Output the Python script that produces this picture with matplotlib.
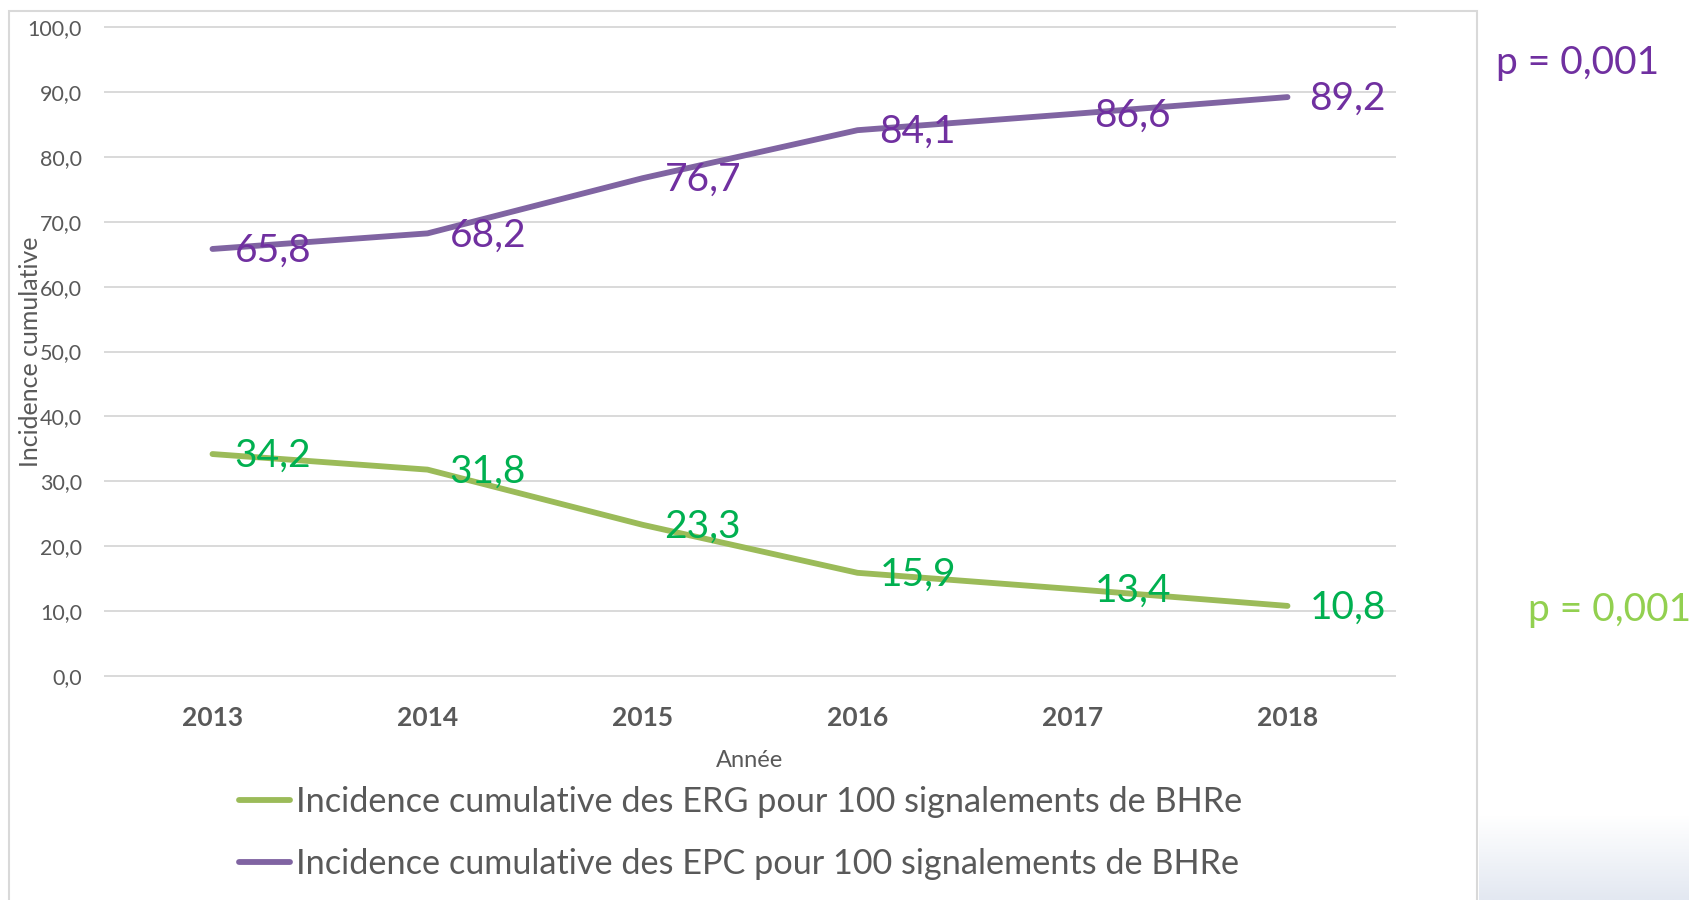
import matplotlib
matplotlib.use('Agg')
import matplotlib.pyplot as plt
import matplotlib.patches as patches
import numpy as np

plt.rcParams['font.family'] = ['Lato', 'DejaVu Sans']

years = ['2013', '2014', '2015', '2016', '2017', '2018']
erg = [34.2, 31.8, 23.3, 15.9, 13.4, 10.8]
epc = [65.8, 68.2, 76.7, 84.1, 86.6, 89.2]
yticks = [0, 10, 20, 30, 40, 50, 60, 70, 80, 90, 100]
label_erg = 'Incidence cumulative des ERG pour 100 signalements de BHRe'
label_epc = 'Incidence cumulative des EPC pour 100 signalements de BHRe'
p_epc = 'p = 0,001'
p_erg = 'p = 0,001'

grey = '#595959'
grid_col = '#D9D9D9'
green_line = '#9BBB59'
green_txt = '#00B050'
purple_line = '#8064A2'
purple_txt = '#7030A0'

W, H = 1690, 900
fig = plt.figure(figsize=(W / 100, H / 100), dpi=100)
fig.patch.set_facecolor('white')

# cadre du graphique
fig.patches.append(patches.Rectangle((9 / W, -0.02), (1477 - 9) / W, (H - 11) / H + 0.02,
                                     fill=False, edgecolor=grid_col, lw=1.5,
                                     transform=fig.transFigure, zorder=0))

# petit degrade en bas a droite
gax = fig.add_axes([1479 / W, 0, (W - 1479) / W, 85 / H])
grad = np.linspace(0, 1, 50).reshape(-1, 1)
gax.imshow(grad, aspect='auto', cmap=matplotlib.colors.LinearSegmentedColormap.from_list(
    'g', ['#FFFFFF', '#E3E8F1']), origin='upper')
gax.axis('off')

ax = fig.add_axes([105 / W, 1 - 676 / H, (1395 - 105) / W, (676 - 27) / H])
x = np.arange(len(years))

for t in yticks:
    ax.axhline(t, color=grid_col, lw=1.4, clip_on=False, zorder=1)

ax.plot(x, erg, color=green_line, lw=4.2, solid_capstyle='round', solid_joinstyle='round',
        zorder=3, label=label_erg)
ax.plot(x, epc, color=purple_line, lw=4.2, solid_capstyle='round', solid_joinstyle='round',
        zorder=3, label=label_epc)

for i, v in enumerate(erg):
    ax.annotate(f'{v:.1f}'.replace('.', ','), xy=(i, v), xytext=(22, -2), textcoords='offset pixels',
                ha='left', va='center', fontsize=28, color=green_txt, zorder=4)
for i, v in enumerate(epc):
    ax.annotate(f'{v:.1f}'.replace('.', ','), xy=(i, v), xytext=(22, -2), textcoords='offset pixels',
                ha='left', va='center', fontsize=28, color=purple_txt, zorder=4)

ax.set_xlim(-0.5, len(years) - 0.5)
ax.set_ylim(0, 100)
ax.set_yticks(yticks)
ax.set_yticklabels([f'{t:.1f}'.replace('.', ',') for t in yticks], fontsize=15.5, color=grey)
ax.set_xticks(x)
ax.set_xticklabels(years, fontsize=19, fontweight='bold', color=grey)
ax.tick_params(axis='both', length=0)
ax.tick_params(axis='y', pad=16.5)
ax.tick_params(axis='x', pad=21.5)
for s in ax.spines.values():
    s.set_visible(False)
ax.set_facecolor('none')

ax.set_ylabel('Incidence cumulative', fontsize=18, color=grey)
ax.yaxis.set_label_coords(-(105 - 42) / 1290, 0.5)
ax.set_xlabel('Année', fontsize=17, color=grey)
ax.xaxis.set_label_coords(0.5, -(750 - 676) / 649)

handles, labels = ax.get_legend_handles_labels()
fig.legend(handles, labels, loc='center left', bbox_to_anchor=(239 / W, 1 - 833 / H),
           frameon=False, fontsize=24.7, labelcolor=grey, handlelength=1.5,
           handletextpad=0.15, labelspacing=0.85, borderpad=0, borderaxespad=0)

fig.text(1496 / W, 1 - 63 / H, p_epc, fontsize=28, color=purple_txt, ha='left', va='center')
fig.text(1528 / W, 1 - 610 / H, p_erg, fontsize=28, color='#92D050', ha='left', va='center')

fig.savefig('out.png', dpi=100)
